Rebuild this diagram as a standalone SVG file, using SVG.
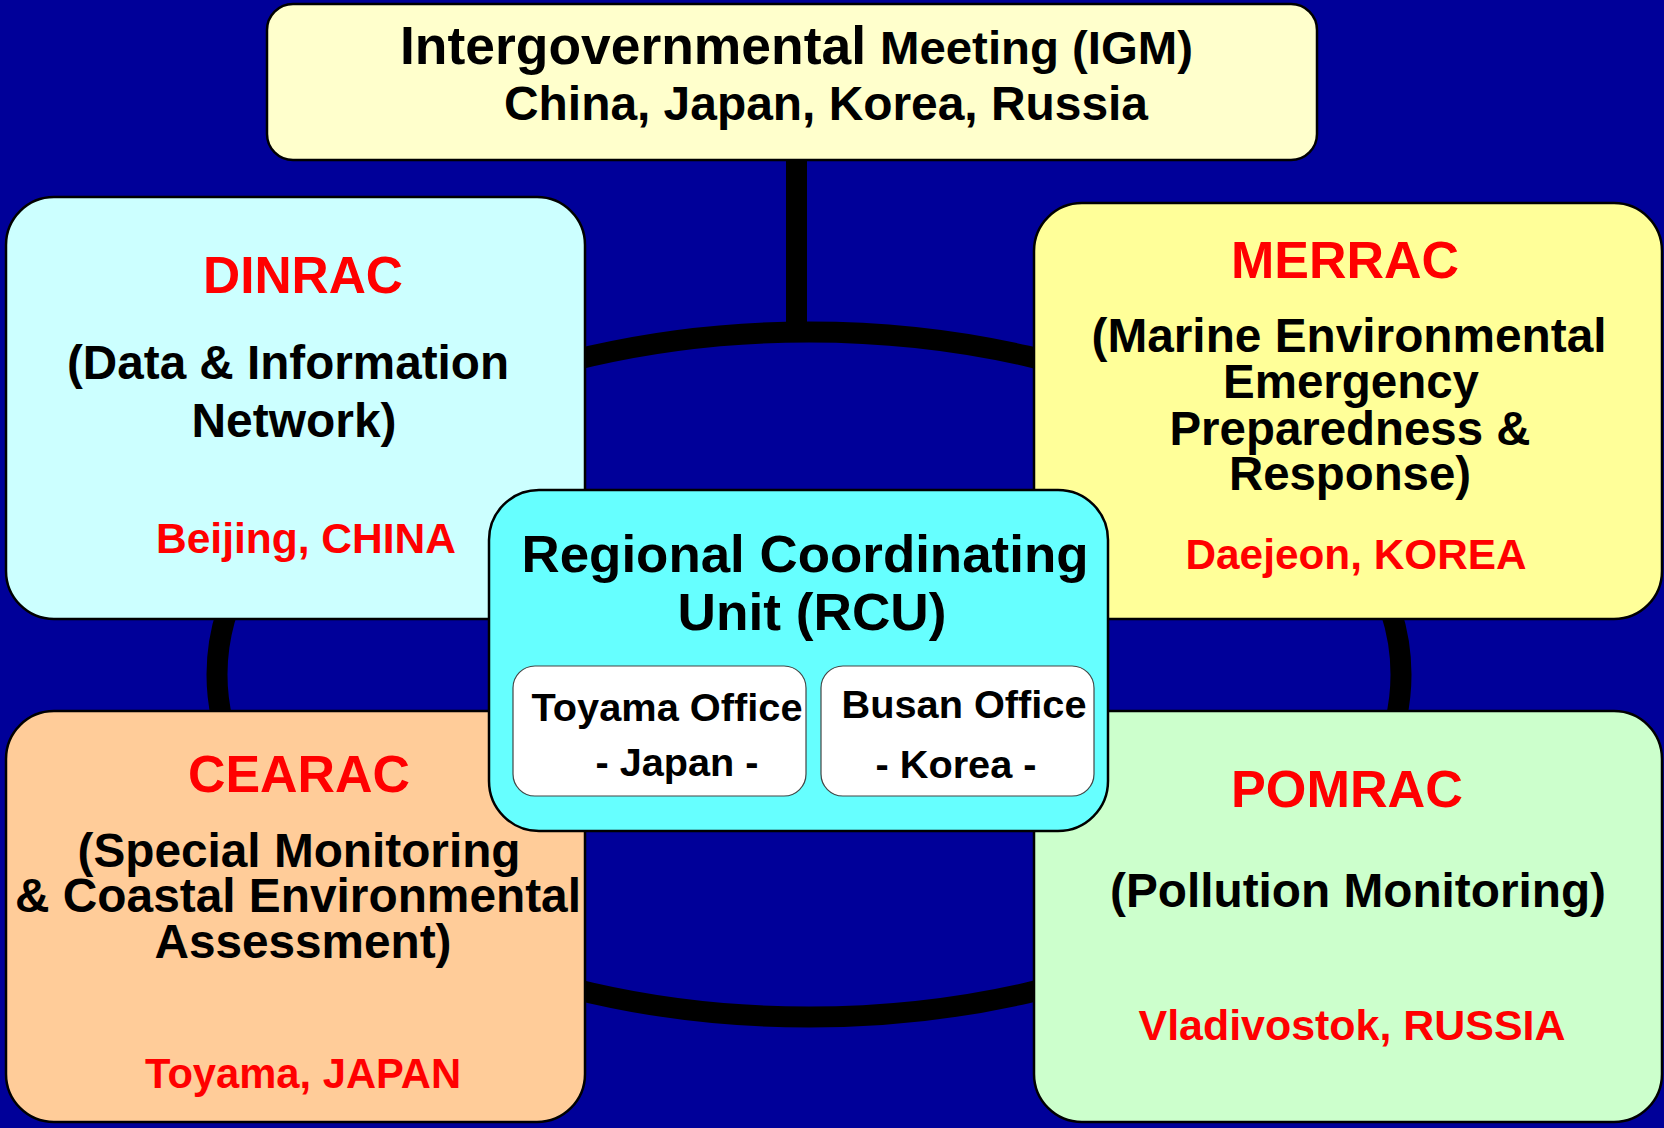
<svg xmlns="http://www.w3.org/2000/svg" width="1664" height="1128" viewBox="0 0 1664 1128">
<style>
text{font-family:"Liberation Sans",Arial,Helvetica,sans-serif;font-weight:bold;fill:#000}
.m{text-anchor:middle}
.red{fill:#FF0000}
.t52{font-size:52px}
.t48{font-size:48px}
.t42{font-size:42px}
.t38{font-size:38px}
.box{stroke:#000;stroke-width:2.5}
.office{fill:#FFFFFF;stroke:#444;stroke-width:1.2}
</style>
<rect x="0" y="0" width="1664" height="1128" fill="#000099"/>
<g id="connectors" fill="none" stroke="#000">
<ellipse cx="809" cy="674.5" rx="592" ry="342.5" stroke-width="21"/>
<line x1="796.5" y1="158" x2="796.5" y2="334" stroke-width="21"/>
</g>
<g id="igm">
<rect class="box" x="267" y="4" width="1050" height="156" rx="26" fill="#FFFFCC"/>
<text y="64"><tspan x="400" font-size="54" textLength="466" lengthAdjust="spacingAndGlyphs">Intergovernmental</tspan><tspan x="880" font-size="46" textLength="313" lengthAdjust="spacingAndGlyphs">Meeting (IGM)</tspan></text>
<text x="504" y="120" font-size="48" textLength="644" lengthAdjust="spacingAndGlyphs">China, Japan, Korea, Russia</text>
</g>
<g id="dinrac">
<rect class="box" x="6" y="197" width="579" height="422" rx="48" fill="#CCFFFF"/>
<text class="m red t52" x="303" y="293" textLength="200" lengthAdjust="spacingAndGlyphs">DINRAC</text>
<text class="m t48" x="288" y="379" textLength="442" lengthAdjust="spacingAndGlyphs">(Data &amp; Information</text>
<text class="m t48" x="294" y="437" textLength="205" lengthAdjust="spacingAndGlyphs">Network)</text>
<text class="m red t42" x="306" y="553" textLength="300" lengthAdjust="spacingAndGlyphs">Beijing, CHINA</text>
</g>
<g id="merrac">
<rect class="box" x="1034" y="203" width="628" height="416" rx="48" fill="#FFFF99"/>
<text class="m red t52" x="1345" y="278" textLength="228" lengthAdjust="spacingAndGlyphs">MERRAC</text>
<text class="m t48" x="1349" y="352" textLength="515" lengthAdjust="spacingAndGlyphs">(Marine Environmental</text>
<text class="m t48" x="1351" y="398" textLength="256" lengthAdjust="spacingAndGlyphs">Emergency</text>
<text class="m t48" x="1350" y="445" textLength="361" lengthAdjust="spacingAndGlyphs">Preparedness &amp;</text>
<text class="m t48" x="1350" y="490" textLength="242" lengthAdjust="spacingAndGlyphs">Response)</text>
<text class="m red t42" x="1356" y="569" textLength="341" lengthAdjust="spacingAndGlyphs">Daejeon, KOREA</text>
</g>
<g id="cearac">
<rect class="box" x="6" y="711" width="579" height="411" rx="48" fill="#FFCC99"/>
<text class="m red t52" x="299" y="792" textLength="222" lengthAdjust="spacingAndGlyphs">CEARAC</text>
<text class="m t48" x="299" y="867" textLength="443" lengthAdjust="spacingAndGlyphs">(Special Monitoring</text>
<text class="m t48" x="298" y="912" textLength="566" lengthAdjust="spacingAndGlyphs">&amp; Coastal Environmental</text>
<text class="m t48" x="303" y="958" textLength="297" lengthAdjust="spacingAndGlyphs">Assessment)</text>
<text class="m red t42" x="303" y="1088" textLength="316" lengthAdjust="spacingAndGlyphs">Toyama, JAPAN</text>
</g>
<g id="pomrac">
<rect class="box" x="1034" y="711" width="628" height="411" rx="48" fill="#CCFFCC"/>
<text class="m red t52" x="1347" y="807" textLength="232" lengthAdjust="spacingAndGlyphs">POMRAC</text>
<text class="m t48" x="1358" y="907" textLength="496" lengthAdjust="spacingAndGlyphs">(Pollution Monitoring)</text>
<text class="m red t42" x="1352" y="1040" textLength="427" lengthAdjust="spacingAndGlyphs">Vladivostok, RUSSIA</text>
</g>
<g id="rcu">
<rect class="box" x="489" y="490" width="619" height="341" rx="50" fill="#66FFFF"/>
<text class="m t52" x="805" y="572" textLength="567" lengthAdjust="spacingAndGlyphs">Regional Coordinating</text>
<text class="m t52" x="812" y="630" textLength="269" lengthAdjust="spacingAndGlyphs">Unit (RCU)</text>
</g>
<g id="toyama-office">
<rect class="office" x="513" y="666" width="293" height="130" rx="22"/>
<text class="m t38" x="667" y="721" textLength="271" lengthAdjust="spacingAndGlyphs">Toyama Office</text>
<text class="m t38" x="677" y="776" textLength="163" lengthAdjust="spacingAndGlyphs">- Japan -</text>
</g>
<g id="busan-office">
<rect class="office" x="821" y="666" width="273" height="130" rx="22"/>
<text class="m t38" x="964" y="718" textLength="245" lengthAdjust="spacingAndGlyphs">Busan Office</text>
<text class="m t38" x="956" y="778" textLength="161" lengthAdjust="spacingAndGlyphs">- Korea -</text>
</g>
</svg>
